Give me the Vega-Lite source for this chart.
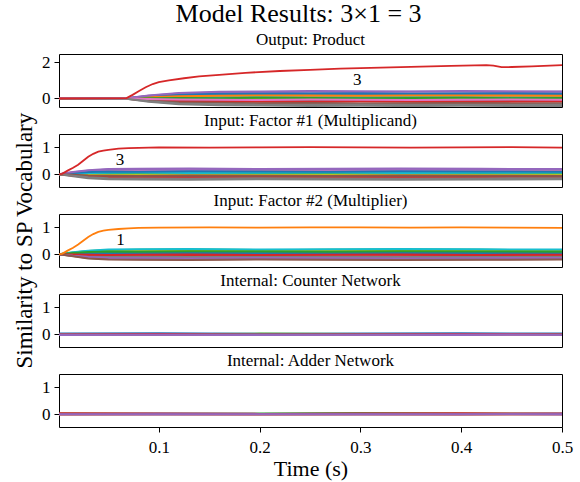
{
"$schema": "https://vega.github.io/schema/vega-lite/v6.json",
"padding": {"left": 13, "top": 0, "right": 12, "bottom": 2},
"title": {"text": "Model Results: 3×1 = 3", "fontSize": 26, "font": "Liberation Serif", "fontWeight": "normal", "color": "#000", "offset": 4, "anchor": "middle", "dx": 5},
"config": {
  "font": "Liberation Serif",
  "view": {"stroke": "#000", "strokeWidth": 1},
  "range": {"category": ["#1f77b4","#ff7f0e","#2ca02c","#d62728","#9467bd","#8c564b","#e377c2","#7f7f7f","#bcbd22","#17becf"]},
  "axis": {"domain": false, "grid": false, "labelFont": "Liberation Serif", "labelFontSize": 17, "labelColor": "#000", "tickColor": "#000", "tickSize": 5, "labelPadding": 4, "titleFont": "Liberation Serif", "titleFontSize": 22, "titleFontWeight": "normal", "titleColor": "#000"},
  "title": {"font": "Liberation Serif", "fontSize": 17, "fontWeight": "normal", "color": "#000", "offset": 4}
},
"datasets": {
"labels": [
{"p":"a","t":0.297,"y":1.04,"label":"3"},
{"p":"b","t":0.0615,"y":0.52,"label":"3"},
{"p":"c","t":0.062,"y":0.52,"label":"1"}
],
"lines": [
{"p":"a","s":"v03","t":0.001,"y":0.0},{"p":"a","s":"v03","t":0.03,"y":0.01},{"p":"a","s":"v03","t":0.068,"y":0.02},{"p":"a","s":"v03","t":0.074,"y":0.2},{"p":"a","s":"v03","t":0.08,"y":0.4},{"p":"a","s":"v03","t":0.087,"y":0.62},{"p":"a","s":"v03","t":0.094,"y":0.8},{"p":"a","s":"v03","t":0.1,"y":0.9},{"p":"a","s":"v03","t":0.11,"y":1.0},{"p":"a","s":"v03","t":0.125,"y":1.12},{"p":"a","s":"v03","t":0.14,"y":1.22},{"p":"a","s":"v03","t":0.16,"y":1.31},{"p":"a","s":"v03","t":0.186,"y":1.42},{"p":"a","s":"v03","t":0.22,"y":1.52},{"p":"a","s":"v03","t":0.25,"y":1.58},{"p":"a","s":"v03","t":0.28,"y":1.65},{"p":"a","s":"v03","t":0.33,"y":1.72},{"p":"a","s":"v03","t":0.39,"y":1.8},{"p":"a","s":"v03","t":0.425,"y":1.84},{"p":"a","s":"v03","t":0.432,"y":1.82},{"p":"a","s":"v03","t":0.44,"y":1.73},{"p":"a","s":"v03","t":0.45,"y":1.74},{"p":"a","s":"v03","t":0.47,"y":1.78},{"p":"a","s":"v03","t":0.5,"y":1.84},

{"p":"a","s":"v00","t":0.001,"y":0.01},{"p":"a","s":"v00","t":0.035,"y":-0.01},{"p":"a","s":"v00","t":0.068,"y":0.0},{"p":"a","s":"v00","t":0.09,"y":0.1},{"p":"a","s":"v00","t":0.12,"y":0.18},{"p":"a","s":"v00","t":0.16,"y":0.2},{"p":"a","s":"v00","t":0.2,"y":0.23},{"p":"a","s":"v00","t":0.25,"y":0.21},{"p":"a","s":"v00","t":0.3,"y":0.24},{"p":"a","s":"v00","t":0.35,"y":0.22},{"p":"a","s":"v00","t":0.4,"y":0.23},{"p":"a","s":"v00","t":0.45,"y":0.21},{"p":"a","s":"v00","t":0.5,"y":0.22},
{"p":"a","s":"v01","t":0.001,"y":0.0},{"p":"a","s":"v01","t":0.035,"y":0.02},{"p":"a","s":"v01","t":0.068,"y":0.01},{"p":"a","s":"v01","t":0.09,"y":0.05},{"p":"a","s":"v01","t":0.12,"y":0.08},{"p":"a","s":"v01","t":0.16,"y":0.1},{"p":"a","s":"v01","t":0.2,"y":0.09},{"p":"a","s":"v01","t":0.25,"y":0.11},{"p":"a","s":"v01","t":0.3,"y":0.1},{"p":"a","s":"v01","t":0.35,"y":0.12},{"p":"a","s":"v01","t":0.4,"y":0.1},{"p":"a","s":"v01","t":0.45,"y":0.09},{"p":"a","s":"v01","t":0.5,"y":0.11},
{"p":"a","s":"v02","t":0.001,"y":-0.01},{"p":"a","s":"v02","t":0.035,"y":0.0},{"p":"a","s":"v02","t":0.068,"y":0.01},{"p":"a","s":"v02","t":0.09,"y":-0.01},{"p":"a","s":"v02","t":0.12,"y":-0.02},{"p":"a","s":"v02","t":0.16,"y":-0.03},{"p":"a","s":"v02","t":0.2,"y":-0.01},{"p":"a","s":"v02","t":0.25,"y":-0.02},{"p":"a","s":"v02","t":0.3,"y":-0.03},{"p":"a","s":"v02","t":0.35,"y":-0.01},{"p":"a","s":"v02","t":0.4,"y":-0.02},{"p":"a","s":"v02","t":0.45,"y":-0.03},{"p":"a","s":"v02","t":0.5,"y":-0.02},
{"p":"a","s":"v04","t":0.001,"y":0.02},{"p":"a","s":"v04","t":0.035,"y":0.01},{"p":"a","s":"v04","t":0.068,"y":0.02},{"p":"a","s":"v04","t":0.09,"y":0.15},{"p":"a","s":"v04","t":0.12,"y":0.28},{"p":"a","s":"v04","t":0.16,"y":0.33},{"p":"a","s":"v04","t":0.2,"y":0.35},{"p":"a","s":"v04","t":0.25,"y":0.37},{"p":"a","s":"v04","t":0.3,"y":0.36},{"p":"a","s":"v04","t":0.35,"y":0.38},{"p":"a","s":"v04","t":0.4,"y":0.37},{"p":"a","s":"v04","t":0.45,"y":0.36},{"p":"a","s":"v04","t":0.5,"y":0.37},
{"p":"a","s":"v05","t":0.001,"y":-0.01},{"p":"a","s":"v05","t":0.035,"y":0.0},{"p":"a","s":"v05","t":0.068,"y":-0.01},{"p":"a","s":"v05","t":0.09,"y":-0.06},{"p":"a","s":"v05","t":0.12,"y":-0.1},{"p":"a","s":"v05","t":0.16,"y":-0.11},{"p":"a","s":"v05","t":0.2,"y":-0.13},{"p":"a","s":"v05","t":0.25,"y":-0.12},{"p":"a","s":"v05","t":0.3,"y":-0.11},{"p":"a","s":"v05","t":0.35,"y":-0.13},{"p":"a","s":"v05","t":0.4,"y":-0.12},{"p":"a","s":"v05","t":0.45,"y":-0.13},{"p":"a","s":"v05","t":0.5,"y":-0.12},
{"p":"a","s":"v06","t":0.001,"y":0.0},{"p":"a","s":"v06","t":0.035,"y":0.01},{"p":"a","s":"v06","t":0.068,"y":0.0},{"p":"a","s":"v06","t":0.09,"y":0.03},{"p":"a","s":"v06","t":0.12,"y":0.04},{"p":"a","s":"v06","t":0.16,"y":0.05},{"p":"a","s":"v06","t":0.2,"y":0.06},{"p":"a","s":"v06","t":0.25,"y":0.04},{"p":"a","s":"v06","t":0.3,"y":0.05},{"p":"a","s":"v06","t":0.35,"y":0.06},{"p":"a","s":"v06","t":0.4,"y":0.05},{"p":"a","s":"v06","t":0.45,"y":0.04},{"p":"a","s":"v06","t":0.5,"y":0.06},
{"p":"a","s":"v07","t":0.001,"y":-0.02},{"p":"a","s":"v07","t":0.035,"y":-0.01},{"p":"a","s":"v07","t":0.068,"y":-0.02},{"p":"a","s":"v07","t":0.09,"y":-0.18},{"p":"a","s":"v07","t":0.12,"y":-0.32},{"p":"a","s":"v07","t":0.16,"y":-0.37},{"p":"a","s":"v07","t":0.2,"y":-0.39},{"p":"a","s":"v07","t":0.25,"y":-0.41},{"p":"a","s":"v07","t":0.3,"y":-0.4},{"p":"a","s":"v07","t":0.35,"y":-0.42},{"p":"a","s":"v07","t":0.4,"y":-0.4},{"p":"a","s":"v07","t":0.45,"y":-0.41},{"p":"a","s":"v07","t":0.5,"y":-0.42},
{"p":"a","s":"v08","t":0.001,"y":0.01},{"p":"a","s":"v08","t":0.035,"y":-0.01},{"p":"a","s":"v08","t":0.068,"y":0.0},{"p":"a","s":"v08","t":0.09,"y":0.01},{"p":"a","s":"v08","t":0.12,"y":0.0},{"p":"a","s":"v08","t":0.16,"y":-0.01},{"p":"a","s":"v08","t":0.2,"y":0.01},{"p":"a","s":"v08","t":0.25,"y":0.0},{"p":"a","s":"v08","t":0.3,"y":0.01},{"p":"a","s":"v08","t":0.35,"y":-0.01},{"p":"a","s":"v08","t":0.4,"y":0.0},{"p":"a","s":"v08","t":0.45,"y":0.01},{"p":"a","s":"v08","t":0.5,"y":0.0},
{"p":"a","s":"v09","t":0.001,"y":0.0},{"p":"a","s":"v09","t":0.035,"y":0.02},{"p":"a","s":"v09","t":0.068,"y":0.01},{"p":"a","s":"v09","t":0.09,"y":0.04},{"p":"a","s":"v09","t":0.12,"y":0.06},{"p":"a","s":"v09","t":0.16,"y":0.07},{"p":"a","s":"v09","t":0.2,"y":0.08},{"p":"a","s":"v09","t":0.25,"y":0.06},{"p":"a","s":"v09","t":0.3,"y":0.07},{"p":"a","s":"v09","t":0.35,"y":0.08},{"p":"a","s":"v09","t":0.4,"y":0.07},{"p":"a","s":"v09","t":0.45,"y":0.06},{"p":"a","s":"v09","t":0.5,"y":0.07},
{"p":"a","s":"v10","t":0.001,"y":0.01},{"p":"a","s":"v10","t":0.035,"y":0.0},{"p":"a","s":"v10","t":0.068,"y":0.01},{"p":"a","s":"v10","t":0.09,"y":0.12},{"p":"a","s":"v10","t":0.12,"y":0.23},{"p":"a","s":"v10","t":0.16,"y":0.26},{"p":"a","s":"v10","t":0.2,"y":0.28},{"p":"a","s":"v10","t":0.25,"y":0.27},{"p":"a","s":"v10","t":0.3,"y":0.29},{"p":"a","s":"v10","t":0.35,"y":0.28},{"p":"a","s":"v10","t":0.4,"y":0.27},{"p":"a","s":"v10","t":0.45,"y":0.29},{"p":"a","s":"v10","t":0.5,"y":0.28},
{"p":"a","s":"v11","t":0.001,"y":0.0},{"p":"a","s":"v11","t":0.035,"y":0.01},{"p":"a","s":"v11","t":0.068,"y":0.0},{"p":"a","s":"v11","t":0.09,"y":0.07},{"p":"a","s":"v11","t":0.12,"y":0.13},{"p":"a","s":"v11","t":0.16,"y":0.15},{"p":"a","s":"v11","t":0.2,"y":0.17},{"p":"a","s":"v11","t":0.25,"y":0.16},{"p":"a","s":"v11","t":0.3,"y":0.15},{"p":"a","s":"v11","t":0.35,"y":0.17},{"p":"a","s":"v11","t":0.4,"y":0.16},{"p":"a","s":"v11","t":0.45,"y":0.17},{"p":"a","s":"v11","t":0.5,"y":0.15},
{"p":"a","s":"v12","t":0.001,"y":0.01},{"p":"a","s":"v12","t":0.035,"y":0.0},{"p":"a","s":"v12","t":0.068,"y":0.01},{"p":"a","s":"v12","t":0.09,"y":0.02},{"p":"a","s":"v12","t":0.12,"y":0.03},{"p":"a","s":"v12","t":0.16,"y":0.02},{"p":"a","s":"v12","t":0.2,"y":0.04},{"p":"a","s":"v12","t":0.25,"y":0.03},{"p":"a","s":"v12","t":0.3,"y":0.02},{"p":"a","s":"v12","t":0.35,"y":0.03},{"p":"a","s":"v12","t":0.4,"y":0.04},{"p":"a","s":"v12","t":0.45,"y":0.02},{"p":"a","s":"v12","t":0.5,"y":0.03},
{"p":"a","s":"v13","t":0.001,"y":-0.01},{"p":"a","s":"v13","t":0.035,"y":0.0},{"p":"a","s":"v13","t":0.068,"y":-0.01},{"p":"a","s":"v13","t":0.09,"y":-0.08},{"p":"a","s":"v13","t":0.12,"y":-0.15},{"p":"a","s":"v13","t":0.16,"y":-0.17},{"p":"a","s":"v13","t":0.2,"y":-0.18},{"p":"a","s":"v13","t":0.25,"y":-0.19},{"p":"a","s":"v13","t":0.3,"y":-0.17},{"p":"a","s":"v13","t":0.35,"y":-0.18},{"p":"a","s":"v13","t":0.4,"y":-0.19},{"p":"a","s":"v13","t":0.45,"y":-0.18},{"p":"a","s":"v13","t":0.5,"y":-0.17},
{"p":"a","s":"v14","t":0.001,"y":0.02},{"p":"a","s":"v14","t":0.035,"y":0.03},{"p":"a","s":"v14","t":0.068,"y":0.02},{"p":"a","s":"v14","t":0.09,"y":0.16},{"p":"a","s":"v14","t":0.12,"y":0.31},{"p":"a","s":"v14","t":0.16,"y":0.37},{"p":"a","s":"v14","t":0.2,"y":0.39},{"p":"a","s":"v14","t":0.25,"y":0.41},{"p":"a","s":"v14","t":0.3,"y":0.4},{"p":"a","s":"v14","t":0.35,"y":0.39},{"p":"a","s":"v14","t":0.4,"y":0.41},{"p":"a","s":"v14","t":0.45,"y":0.4},{"p":"a","s":"v14","t":0.5,"y":0.39},
{"p":"a","s":"v15","t":0.001,"y":-0.01},{"p":"a","s":"v15","t":0.035,"y":-0.02},{"p":"a","s":"v15","t":0.068,"y":-0.01},{"p":"a","s":"v15","t":0.09,"y":-0.11},{"p":"a","s":"v15","t":0.12,"y":-0.21},{"p":"a","s":"v15","t":0.16,"y":-0.24},{"p":"a","s":"v15","t":0.2,"y":-0.26},{"p":"a","s":"v15","t":0.25,"y":-0.25},{"p":"a","s":"v15","t":0.3,"y":-0.27},{"p":"a","s":"v15","t":0.35,"y":-0.26},{"p":"a","s":"v15","t":0.4,"y":-0.25},{"p":"a","s":"v15","t":0.45,"y":-0.27},{"p":"a","s":"v15","t":0.5,"y":-0.26},
{"p":"a","s":"v16","t":0.001,"y":0.0},{"p":"a","s":"v16","t":0.035,"y":-0.01},{"p":"a","s":"v16","t":0.068,"y":0.0},{"p":"a","s":"v16","t":0.09,"y":-0.03},{"p":"a","s":"v16","t":0.12,"y":-0.06},{"p":"a","s":"v16","t":0.16,"y":-0.07},{"p":"a","s":"v16","t":0.2,"y":-0.08},{"p":"a","s":"v16","t":0.25,"y":-0.06},{"p":"a","s":"v16","t":0.3,"y":-0.07},{"p":"a","s":"v16","t":0.35,"y":-0.08},{"p":"a","s":"v16","t":0.4,"y":-0.07},{"p":"a","s":"v16","t":0.45,"y":-0.06},{"p":"a","s":"v16","t":0.5,"y":-0.07},
{"p":"a","s":"v17","t":0.001,"y":-0.02},{"p":"a","s":"v17","t":0.035,"y":-0.01},{"p":"a","s":"v17","t":0.068,"y":-0.02},{"p":"a","s":"v17","t":0.09,"y":-0.15},{"p":"a","s":"v17","t":0.12,"y":-0.28},{"p":"a","s":"v17","t":0.16,"y":-0.32},{"p":"a","s":"v17","t":0.2,"y":-0.34},{"p":"a","s":"v17","t":0.25,"y":-0.35},{"p":"a","s":"v17","t":0.3,"y":-0.33},{"p":"a","s":"v17","t":0.35,"y":-0.34},{"p":"a","s":"v17","t":0.4,"y":-0.35},{"p":"a","s":"v17","t":0.45,"y":-0.34},{"p":"a","s":"v17","t":0.5,"y":-0.33},

{"p":"b","s":"v03","t":0.001,"y":0.0},{"p":"b","s":"v03","t":0.004,"y":0.01},{"p":"b","s":"v03","t":0.01,"y":0.14},{"p":"b","s":"v03","t":0.015,"y":0.24},{"p":"b","s":"v03","t":0.02,"y":0.35},{"p":"b","s":"v03","t":0.025,"y":0.5},{"p":"b","s":"v03","t":0.03,"y":0.65},{"p":"b","s":"v03","t":0.035,"y":0.76},{"p":"b","s":"v03","t":0.04,"y":0.84},{"p":"b","s":"v03","t":0.045,"y":0.88},{"p":"b","s":"v03","t":0.05,"y":0.91},{"p":"b","s":"v03","t":0.06,"y":0.95},{"p":"b","s":"v03","t":0.07,"y":0.97},{"p":"b","s":"v03","t":0.08,"y":0.98},{"p":"b","s":"v03","t":0.1,"y":1.0},{"p":"b","s":"v03","t":0.15,"y":0.99},{"p":"b","s":"v03","t":0.2,"y":1.0},{"p":"b","s":"v03","t":0.25,"y":1.01},{"p":"b","s":"v03","t":0.3,"y":1.0},{"p":"b","s":"v03","t":0.35,"y":0.99},{"p":"b","s":"v03","t":0.4,"y":1.0},{"p":"b","s":"v03","t":0.45,"y":1.01},{"p":"b","s":"v03","t":0.5,"y":0.99},

{"p":"b","s":"v00","t":0.001,"y":0.0},{"p":"b","s":"v00","t":0.015,"y":0.03},{"p":"b","s":"v00","t":0.03,"y":0.06},{"p":"b","s":"v00","t":0.05,"y":0.08},{"p":"b","s":"v00","t":0.08,"y":0.07},{"p":"b","s":"v00","t":0.13,"y":0.09},{"p":"b","s":"v00","t":0.2,"y":0.08},{"p":"b","s":"v00","t":0.27,"y":0.07},{"p":"b","s":"v00","t":0.34,"y":0.09},{"p":"b","s":"v00","t":0.42,"y":0.08},{"p":"b","s":"v00","t":0.5,"y":0.07},
{"p":"b","s":"v01","t":0.001,"y":0.0},{"p":"b","s":"v01","t":0.015,"y":0.06},{"p":"b","s":"v01","t":0.03,"y":0.11},{"p":"b","s":"v01","t":0.05,"y":0.14},{"p":"b","s":"v01","t":0.08,"y":0.15},{"p":"b","s":"v01","t":0.13,"y":0.16},{"p":"b","s":"v01","t":0.2,"y":0.14},{"p":"b","s":"v01","t":0.27,"y":0.15},{"p":"b","s":"v01","t":0.34,"y":0.16},{"p":"b","s":"v01","t":0.42,"y":0.15},{"p":"b","s":"v01","t":0.5,"y":0.14},
{"p":"b","s":"v02","t":0.001,"y":0.0},{"p":"b","s":"v02","t":0.015,"y":0.01},{"p":"b","s":"v02","t":0.03,"y":0.02},{"p":"b","s":"v02","t":0.05,"y":0.03},{"p":"b","s":"v02","t":0.08,"y":0.01},{"p":"b","s":"v02","t":0.13,"y":0.02},{"p":"b","s":"v02","t":0.2,"y":0.03},{"p":"b","s":"v02","t":0.27,"y":0.02},{"p":"b","s":"v02","t":0.34,"y":0.01},{"p":"b","s":"v02","t":0.42,"y":0.03},{"p":"b","s":"v02","t":0.5,"y":0.02},
{"p":"b","s":"v04","t":0.001,"y":0.0},{"p":"b","s":"v04","t":0.015,"y":0.07},{"p":"b","s":"v04","t":0.03,"y":0.13},{"p":"b","s":"v04","t":0.05,"y":0.17},{"p":"b","s":"v04","t":0.08,"y":0.18},{"p":"b","s":"v04","t":0.13,"y":0.19},{"p":"b","s":"v04","t":0.2,"y":0.17},{"p":"b","s":"v04","t":0.27,"y":0.18},{"p":"b","s":"v04","t":0.34,"y":0.19},{"p":"b","s":"v04","t":0.42,"y":0.18},{"p":"b","s":"v04","t":0.5,"y":0.17},
{"p":"b","s":"v05","t":0.001,"y":0.0},{"p":"b","s":"v05","t":0.015,"y":-0.04},{"p":"b","s":"v05","t":0.03,"y":-0.08},{"p":"b","s":"v05","t":0.05,"y":-0.1},{"p":"b","s":"v05","t":0.08,"y":-0.09},{"p":"b","s":"v05","t":0.13,"y":-0.11},{"p":"b","s":"v05","t":0.2,"y":-0.1},{"p":"b","s":"v05","t":0.27,"y":-0.09},{"p":"b","s":"v05","t":0.34,"y":-0.11},{"p":"b","s":"v05","t":0.42,"y":-0.1},{"p":"b","s":"v05","t":0.5,"y":-0.09},
{"p":"b","s":"v06","t":0.001,"y":0.0},{"p":"b","s":"v06","t":0.015,"y":0.05},{"p":"b","s":"v06","t":0.03,"y":0.09},{"p":"b","s":"v06","t":0.05,"y":0.11},{"p":"b","s":"v06","t":0.08,"y":0.12},{"p":"b","s":"v06","t":0.13,"y":0.13},{"p":"b","s":"v06","t":0.2,"y":0.11},{"p":"b","s":"v06","t":0.27,"y":0.12},{"p":"b","s":"v06","t":0.34,"y":0.13},{"p":"b","s":"v06","t":0.42,"y":0.12},{"p":"b","s":"v06","t":0.5,"y":0.11},
{"p":"b","s":"v07","t":0.001,"y":0.0},{"p":"b","s":"v07","t":0.015,"y":-0.08},{"p":"b","s":"v07","t":0.03,"y":-0.15},{"p":"b","s":"v07","t":0.05,"y":-0.19},{"p":"b","s":"v07","t":0.08,"y":-0.2},{"p":"b","s":"v07","t":0.13,"y":-0.21},{"p":"b","s":"v07","t":0.2,"y":-0.19},{"p":"b","s":"v07","t":0.27,"y":-0.2},{"p":"b","s":"v07","t":0.34,"y":-0.21},{"p":"b","s":"v07","t":0.42,"y":-0.2},{"p":"b","s":"v07","t":0.5,"y":-0.19},
{"p":"b","s":"v08","t":0.001,"y":0.0},{"p":"b","s":"v08","t":0.015,"y":-0.01},{"p":"b","s":"v08","t":0.03,"y":-0.02},{"p":"b","s":"v08","t":0.05,"y":-0.03},{"p":"b","s":"v08","t":0.08,"y":-0.02},{"p":"b","s":"v08","t":0.13,"y":-0.01},{"p":"b","s":"v08","t":0.2,"y":-0.03},{"p":"b","s":"v08","t":0.27,"y":-0.02},{"p":"b","s":"v08","t":0.34,"y":-0.01},{"p":"b","s":"v08","t":0.42,"y":-0.03},{"p":"b","s":"v08","t":0.5,"y":-0.02},
{"p":"b","s":"v09","t":0.001,"y":0.0},{"p":"b","s":"v09","t":0.015,"y":0.02},{"p":"b","s":"v09","t":0.03,"y":0.04},{"p":"b","s":"v09","t":0.05,"y":0.05},{"p":"b","s":"v09","t":0.08,"y":0.06},{"p":"b","s":"v09","t":0.13,"y":0.04},{"p":"b","s":"v09","t":0.2,"y":0.05},{"p":"b","s":"v09","t":0.27,"y":0.06},{"p":"b","s":"v09","t":0.34,"y":0.04},{"p":"b","s":"v09","t":0.42,"y":0.05},{"p":"b","s":"v09","t":0.5,"y":0.06},
{"p":"b","s":"v10","t":0.001,"y":0.0},{"p":"b","s":"v10","t":0.015,"y":0.04},{"p":"b","s":"v10","t":0.03,"y":0.08},{"p":"b","s":"v10","t":0.05,"y":0.1},{"p":"b","s":"v10","t":0.08,"y":0.09},{"p":"b","s":"v10","t":0.13,"y":0.11},{"p":"b","s":"v10","t":0.2,"y":0.1},{"p":"b","s":"v10","t":0.27,"y":0.09},{"p":"b","s":"v10","t":0.34,"y":0.11},{"p":"b","s":"v10","t":0.42,"y":0.1},{"p":"b","s":"v10","t":0.5,"y":0.09},
{"p":"b","s":"v13","t":0.001,"y":0.0},{"p":"b","s":"v13","t":0.015,"y":-0.05},{"p":"b","s":"v13","t":0.03,"y":-0.09},{"p":"b","s":"v13","t":0.05,"y":-0.12},{"p":"b","s":"v13","t":0.08,"y":-0.11},{"p":"b","s":"v13","t":0.13,"y":-0.13},{"p":"b","s":"v13","t":0.2,"y":-0.12},{"p":"b","s":"v13","t":0.27,"y":-0.11},{"p":"b","s":"v13","t":0.34,"y":-0.13},{"p":"b","s":"v13","t":0.42,"y":-0.12},{"p":"b","s":"v13","t":0.5,"y":-0.11},
{"p":"b","s":"v14","t":0.001,"y":0.0},{"p":"b","s":"v14","t":0.015,"y":0.08},{"p":"b","s":"v14","t":0.03,"y":0.15},{"p":"b","s":"v14","t":0.05,"y":0.19},{"p":"b","s":"v14","t":0.08,"y":0.2},{"p":"b","s":"v14","t":0.13,"y":0.21},{"p":"b","s":"v14","t":0.2,"y":0.19},{"p":"b","s":"v14","t":0.27,"y":0.2},{"p":"b","s":"v14","t":0.34,"y":0.21},{"p":"b","s":"v14","t":0.42,"y":0.2},{"p":"b","s":"v14","t":0.5,"y":0.19},
{"p":"b","s":"v15","t":0.001,"y":0.0},{"p":"b","s":"v15","t":0.015,"y":-0.02},{"p":"b","s":"v15","t":0.03,"y":-0.05},{"p":"b","s":"v15","t":0.05,"y":-0.06},{"p":"b","s":"v15","t":0.08,"y":-0.07},{"p":"b","s":"v15","t":0.13,"y":-0.05},{"p":"b","s":"v15","t":0.2,"y":-0.06},{"p":"b","s":"v15","t":0.27,"y":-0.07},{"p":"b","s":"v15","t":0.34,"y":-0.05},{"p":"b","s":"v15","t":0.42,"y":-0.06},{"p":"b","s":"v15","t":0.5,"y":-0.07},
{"p":"b","s":"v17","t":0.001,"y":0.0},{"p":"b","s":"v17","t":0.015,"y":-0.06},{"p":"b","s":"v17","t":0.03,"y":-0.12},{"p":"b","s":"v17","t":0.05,"y":-0.15},{"p":"b","s":"v17","t":0.08,"y":-0.16},{"p":"b","s":"v17","t":0.13,"y":-0.17},{"p":"b","s":"v17","t":0.2,"y":-0.15},{"p":"b","s":"v17","t":0.27,"y":-0.16},{"p":"b","s":"v17","t":0.34,"y":-0.17},{"p":"b","s":"v17","t":0.42,"y":-0.16},{"p":"b","s":"v17","t":0.5,"y":-0.15},

{"p":"c","s":"v01","t":0.001,"y":0.0},{"p":"c","s":"v01","t":0.004,"y":0.01},{"p":"c","s":"v01","t":0.01,"y":0.14},{"p":"c","s":"v01","t":0.015,"y":0.24},{"p":"c","s":"v01","t":0.02,"y":0.36},{"p":"c","s":"v01","t":0.025,"y":0.5},{"p":"c","s":"v01","t":0.03,"y":0.64},{"p":"c","s":"v01","t":0.035,"y":0.75},{"p":"c","s":"v01","t":0.04,"y":0.83},{"p":"c","s":"v01","t":0.045,"y":0.88},{"p":"c","s":"v01","t":0.05,"y":0.91},{"p":"c","s":"v01","t":0.06,"y":0.94},{"p":"c","s":"v01","t":0.07,"y":0.96},{"p":"c","s":"v01","t":0.08,"y":0.98},{"p":"c","s":"v01","t":0.1,"y":0.99},{"p":"c","s":"v01","t":0.15,"y":1.0},{"p":"c","s":"v01","t":0.2,"y":0.99},{"p":"c","s":"v01","t":0.25,"y":1.0},{"p":"c","s":"v01","t":0.3,"y":1.0},{"p":"c","s":"v01","t":0.35,"y":0.99},{"p":"c","s":"v01","t":0.4,"y":1.0},{"p":"c","s":"v01","t":0.45,"y":0.99},{"p":"c","s":"v01","t":0.5,"y":0.98},

{"p":"c","s":"v00","t":0.001,"y":0.0},{"p":"c","s":"v00","t":0.015,"y":0.02},{"p":"c","s":"v00","t":0.03,"y":0.05},{"p":"c","s":"v00","t":0.05,"y":0.06},{"p":"c","s":"v00","t":0.08,"y":0.07},{"p":"c","s":"v00","t":0.13,"y":0.05},{"p":"c","s":"v00","t":0.2,"y":0.06},{"p":"c","s":"v00","t":0.27,"y":0.07},{"p":"c","s":"v00","t":0.34,"y":0.05},{"p":"c","s":"v00","t":0.42,"y":0.06},{"p":"c","s":"v00","t":0.5,"y":0.07},
{"p":"c","s":"v02","t":0.001,"y":0.0},{"p":"c","s":"v02","t":0.015,"y":0.06},{"p":"c","s":"v02","t":0.03,"y":0.12},{"p":"c","s":"v02","t":0.05,"y":0.15},{"p":"c","s":"v02","t":0.08,"y":0.16},{"p":"c","s":"v02","t":0.13,"y":0.17},{"p":"c","s":"v02","t":0.2,"y":0.15},{"p":"c","s":"v02","t":0.27,"y":0.16},{"p":"c","s":"v02","t":0.34,"y":0.17},{"p":"c","s":"v02","t":0.42,"y":0.16},{"p":"c","s":"v02","t":0.5,"y":0.15},
{"p":"c","s":"v03","t":0.001,"y":0.0},{"p":"c","s":"v03","t":0.015,"y":-0.02},{"p":"c","s":"v03","t":0.03,"y":-0.04},{"p":"c","s":"v03","t":0.05,"y":-0.05},{"p":"c","s":"v03","t":0.08,"y":-0.06},{"p":"c","s":"v03","t":0.13,"y":-0.04},{"p":"c","s":"v03","t":0.2,"y":-0.05},{"p":"c","s":"v03","t":0.27,"y":-0.06},{"p":"c","s":"v03","t":0.34,"y":-0.04},{"p":"c","s":"v03","t":0.42,"y":-0.05},{"p":"c","s":"v03","t":0.5,"y":-0.06},
{"p":"c","s":"v04","t":0.001,"y":0.0},{"p":"c","s":"v04","t":0.015,"y":-0.05},{"p":"c","s":"v04","t":0.03,"y":-0.1},{"p":"c","s":"v04","t":0.05,"y":-0.12},{"p":"c","s":"v04","t":0.08,"y":-0.13},{"p":"c","s":"v04","t":0.13,"y":-0.14},{"p":"c","s":"v04","t":0.2,"y":-0.12},{"p":"c","s":"v04","t":0.27,"y":-0.13},{"p":"c","s":"v04","t":0.34,"y":-0.14},{"p":"c","s":"v04","t":0.42,"y":-0.13},{"p":"c","s":"v04","t":0.5,"y":-0.12},
{"p":"c","s":"v05","t":0.001,"y":0.0},{"p":"c","s":"v05","t":0.015,"y":-0.07},{"p":"c","s":"v05","t":0.03,"y":-0.14},{"p":"c","s":"v05","t":0.05,"y":-0.18},{"p":"c","s":"v05","t":0.08,"y":-0.19},{"p":"c","s":"v05","t":0.13,"y":-0.2},{"p":"c","s":"v05","t":0.2,"y":-0.18},{"p":"c","s":"v05","t":0.27,"y":-0.19},{"p":"c","s":"v05","t":0.34,"y":-0.2},{"p":"c","s":"v05","t":0.42,"y":-0.19},{"p":"c","s":"v05","t":0.5,"y":-0.18},
{"p":"c","s":"v06","t":0.001,"y":0.0},{"p":"c","s":"v06","t":0.015,"y":0.01},{"p":"c","s":"v06","t":0.03,"y":0.0},{"p":"c","s":"v06","t":0.05,"y":-0.01},{"p":"c","s":"v06","t":0.08,"y":0.0},{"p":"c","s":"v06","t":0.13,"y":0.01},{"p":"c","s":"v06","t":0.2,"y":0.0},{"p":"c","s":"v06","t":0.27,"y":-0.01},{"p":"c","s":"v06","t":0.34,"y":0.0},{"p":"c","s":"v06","t":0.42,"y":0.01},{"p":"c","s":"v06","t":0.5,"y":0.0},
{"p":"c","s":"v07","t":0.001,"y":0.0},{"p":"c","s":"v07","t":0.015,"y":-0.04},{"p":"c","s":"v07","t":0.03,"y":-0.08},{"p":"c","s":"v07","t":0.05,"y":-0.1},{"p":"c","s":"v07","t":0.08,"y":-0.09},{"p":"c","s":"v07","t":0.13,"y":-0.11},{"p":"c","s":"v07","t":0.2,"y":-0.1},{"p":"c","s":"v07","t":0.27,"y":-0.09},{"p":"c","s":"v07","t":0.34,"y":-0.11},{"p":"c","s":"v07","t":0.42,"y":-0.1},{"p":"c","s":"v07","t":0.5,"y":-0.09},
{"p":"c","s":"v08","t":0.001,"y":0.0},{"p":"c","s":"v08","t":0.015,"y":0.05},{"p":"c","s":"v08","t":0.03,"y":0.09},{"p":"c","s":"v08","t":0.05,"y":0.11},{"p":"c","s":"v08","t":0.08,"y":0.12},{"p":"c","s":"v08","t":0.13,"y":0.13},{"p":"c","s":"v08","t":0.2,"y":0.11},{"p":"c","s":"v08","t":0.27,"y":0.12},{"p":"c","s":"v08","t":0.34,"y":0.13},{"p":"c","s":"v08","t":0.42,"y":0.12},{"p":"c","s":"v08","t":0.5,"y":0.11},
{"p":"c","s":"v09","t":0.001,"y":0.0},{"p":"c","s":"v09","t":0.015,"y":0.07},{"p":"c","s":"v09","t":0.03,"y":0.13},{"p":"c","s":"v09","t":0.05,"y":0.17},{"p":"c","s":"v09","t":0.08,"y":0.18},{"p":"c","s":"v09","t":0.13,"y":0.19},{"p":"c","s":"v09","t":0.2,"y":0.17},{"p":"c","s":"v09","t":0.27,"y":0.18},{"p":"c","s":"v09","t":0.34,"y":0.19},{"p":"c","s":"v09","t":0.42,"y":0.18},{"p":"c","s":"v09","t":0.5,"y":0.17},
{"p":"c","s":"v10","t":0.001,"y":0.0},{"p":"c","s":"v10","t":0.015,"y":0.01},{"p":"c","s":"v10","t":0.03,"y":0.02},{"p":"c","s":"v10","t":0.05,"y":0.03},{"p":"c","s":"v10","t":0.08,"y":0.04},{"p":"c","s":"v10","t":0.13,"y":0.02},{"p":"c","s":"v10","t":0.2,"y":0.03},{"p":"c","s":"v10","t":0.27,"y":0.04},{"p":"c","s":"v10","t":0.34,"y":0.02},{"p":"c","s":"v10","t":0.42,"y":0.03},{"p":"c","s":"v10","t":0.5,"y":0.04},
{"p":"c","s":"v12","t":0.001,"y":0.0},{"p":"c","s":"v12","t":0.015,"y":0.04},{"p":"c","s":"v12","t":0.03,"y":0.08},{"p":"c","s":"v12","t":0.05,"y":0.1},{"p":"c","s":"v12","t":0.08,"y":0.09},{"p":"c","s":"v12","t":0.13,"y":0.11},{"p":"c","s":"v12","t":0.2,"y":0.1},{"p":"c","s":"v12","t":0.27,"y":0.09},{"p":"c","s":"v12","t":0.34,"y":0.11},{"p":"c","s":"v12","t":0.42,"y":0.1},{"p":"c","s":"v12","t":0.5,"y":0.09},
{"p":"c","s":"v13","t":0.001,"y":0.0},{"p":"c","s":"v13","t":0.015,"y":-0.01},{"p":"c","s":"v13","t":0.03,"y":-0.02},{"p":"c","s":"v13","t":0.05,"y":-0.03},{"p":"c","s":"v13","t":0.08,"y":-0.02},{"p":"c","s":"v13","t":0.13,"y":-0.01},{"p":"c","s":"v13","t":0.2,"y":-0.03},{"p":"c","s":"v13","t":0.27,"y":-0.02},{"p":"c","s":"v13","t":0.34,"y":-0.01},{"p":"c","s":"v13","t":0.42,"y":-0.03},{"p":"c","s":"v13","t":0.5,"y":-0.02},
{"p":"c","s":"v14","t":0.001,"y":0.0},{"p":"c","s":"v14","t":0.015,"y":-0.06},{"p":"c","s":"v14","t":0.03,"y":-0.11},{"p":"c","s":"v14","t":0.05,"y":-0.14},{"p":"c","s":"v14","t":0.08,"y":-0.15},{"p":"c","s":"v14","t":0.13,"y":-0.16},{"p":"c","s":"v14","t":0.2,"y":-0.14},{"p":"c","s":"v14","t":0.27,"y":-0.15},{"p":"c","s":"v14","t":0.34,"y":-0.16},{"p":"c","s":"v14","t":0.42,"y":-0.15},{"p":"c","s":"v14","t":0.5,"y":-0.14},
{"p":"c","s":"v15","t":0.001,"y":0.0},{"p":"c","s":"v15","t":0.015,"y":-0.08},{"p":"c","s":"v15","t":0.03,"y":-0.16},{"p":"c","s":"v15","t":0.05,"y":-0.2},{"p":"c","s":"v15","t":0.08,"y":-0.21},{"p":"c","s":"v15","t":0.13,"y":-0.22},{"p":"c","s":"v15","t":0.2,"y":-0.2},{"p":"c","s":"v15","t":0.27,"y":-0.21},{"p":"c","s":"v15","t":0.34,"y":-0.22},{"p":"c","s":"v15","t":0.42,"y":-0.21},{"p":"c","s":"v15","t":0.5,"y":-0.2},

{"p":"d","s":"v00","t":0.001,"y":0.02},{"p":"d","s":"v00","t":0.1,"y":0.03},{"p":"d","s":"v00","t":0.2,"y":0.01},{"p":"d","s":"v00","t":0.3,"y":0.02},{"p":"d","s":"v00","t":0.4,"y":0.03},{"p":"d","s":"v00","t":0.5,"y":0.02},
{"p":"d","s":"v01","t":0.001,"y":-0.02},{"p":"d","s":"v01","t":0.1,"y":-0.03},{"p":"d","s":"v01","t":0.2,"y":-0.01},{"p":"d","s":"v01","t":0.3,"y":-0.02},{"p":"d","s":"v01","t":0.4,"y":-0.03},{"p":"d","s":"v01","t":0.5,"y":-0.02},
{"p":"d","s":"v02","t":0.001,"y":0.01},{"p":"d","s":"v02","t":0.1,"y":0.0},{"p":"d","s":"v02","t":0.2,"y":0.02},{"p":"d","s":"v02","t":0.3,"y":0.01},{"p":"d","s":"v02","t":0.4,"y":0.0},{"p":"d","s":"v02","t":0.5,"y":0.01},
{"p":"d","s":"v03","t":0.001,"y":0.0},{"p":"d","s":"v03","t":0.1,"y":0.01},{"p":"d","s":"v03","t":0.2,"y":-0.01},{"p":"d","s":"v03","t":0.3,"y":0.0},{"p":"d","s":"v03","t":0.4,"y":0.01},{"p":"d","s":"v03","t":0.5,"y":0.0},
{"p":"d","s":"v04","t":0.001,"y":-0.01},{"p":"d","s":"v04","t":0.1,"y":-0.02},{"p":"d","s":"v04","t":0.2,"y":-0.01},{"p":"d","s":"v04","t":0.3,"y":-0.02},{"p":"d","s":"v04","t":0.4,"y":-0.01},{"p":"d","s":"v04","t":0.5,"y":-0.02},
{"p":"d","s":"v14","t":0.001,"y":-0.03},{"p":"d","s":"v14","t":0.1,"y":-0.02},{"p":"d","s":"v14","t":0.2,"y":-0.03},{"p":"d","s":"v14","t":0.3,"y":-0.02},{"p":"d","s":"v14","t":0.4,"y":-0.03},{"p":"d","s":"v14","t":0.5,"y":-0.02},

{"p":"e","s":"v00","t":0.001,"y":0.01},{"p":"e","s":"v00","t":0.1,"y":0.02},{"p":"e","s":"v00","t":0.2,"y":0.01},{"p":"e","s":"v00","t":0.3,"y":0.02},{"p":"e","s":"v00","t":0.4,"y":0.01},{"p":"e","s":"v00","t":0.5,"y":0.02},
{"p":"e","s":"v01","t":0.001,"y":-0.02},{"p":"e","s":"v01","t":0.1,"y":-0.01},{"p":"e","s":"v01","t":0.2,"y":-0.02},{"p":"e","s":"v01","t":0.3,"y":-0.01},{"p":"e","s":"v01","t":0.4,"y":-0.02},{"p":"e","s":"v01","t":0.5,"y":-0.01},
{"p":"e","s":"v02","t":0.001,"y":0.02},{"p":"e","s":"v02","t":0.1,"y":0.01},{"p":"e","s":"v02","t":0.2,"y":0.02},{"p":"e","s":"v02","t":0.3,"y":0.03},{"p":"e","s":"v02","t":0.4,"y":0.02},{"p":"e","s":"v02","t":0.5,"y":0.01},
{"p":"e","s":"v03","t":0.001,"y":0.03},{"p":"e","s":"v03","t":0.1,"y":0.02},{"p":"e","s":"v03","t":0.2,"y":0.01},{"p":"e","s":"v03","t":0.3,"y":0.02},{"p":"e","s":"v03","t":0.4,"y":0.03},{"p":"e","s":"v03","t":0.5,"y":0.02},
{"p":"e","s":"v04","t":0.001,"y":-0.01},{"p":"e","s":"v04","t":0.1,"y":0.0},{"p":"e","s":"v04","t":0.2,"y":-0.01},{"p":"e","s":"v04","t":0.3,"y":0.0},{"p":"e","s":"v04","t":0.4,"y":-0.01},{"p":"e","s":"v04","t":0.5,"y":0.0},
{"p":"e","s":"v14","t":0.001,"y":0.0},{"p":"e","s":"v14","t":0.1,"y":-0.01},{"p":"e","s":"v14","t":0.2,"y":0.0},{"p":"e","s":"v14","t":0.3,"y":-0.01},{"p":"e","s":"v14","t":0.4,"y":0.0},{"p":"e","s":"v14","t":0.5,"y":-0.01}
]
},
"vconcat": [
{
"title": {"text": "Similarity to SP Vocabulary", "orient": "left", "fontSize": 23, "offset": 4, "dx": 111},
"bounds": "flush",
"spacing": 27,
"vconcat": [
{
 "width": 503, "height": 53,
 "title": "Output: Product",
 "layer": [
  {"data": {"name": "lines"}, "transform": [{"filter": "datum.p === 'a' && datum.s !== 'v03'"}],
   "mark": {"type": "line", "strokeWidth": 2, "clip": true},
   "encoding": {
    "x": {"field": "t", "type": "quantitative", "scale": {"domain": [0.001, 0.5], "nice": false, "zero": false}, "axis": null},
    "y": {"field": "y", "type": "quantitative", "scale": {"domain": [-0.47, 2.46], "nice": false, "zero": false}, "axis": {"values": [0, 2], "title": null}},
    "color": {"field": "s", "type": "nominal", "legend": null, "scale": {"domain": ["v00","v01","v02","v03","v04","v05","v06","v07","v08","v09","v10","v11","v12","v13","v14","v15","v16","v17","v18","v19"]}}
   }},
  {"data": {"name": "lines"}, "transform": [{"filter": "datum.p === 'a' && datum.s === 'v03'"}],
   "mark": {"type": "line", "strokeWidth": 1.8, "clip": true},
   "encoding": {
    "x": {"field": "t", "type": "quantitative"},
    "y": {"field": "y", "type": "quantitative"},
    "color": {"field": "s", "type": "nominal"}
   }},
  {"data": {"name": "labels"}, "transform": [{"filter": "datum.p === 'a'"}],
   "mark": {"type": "text", "fontSize": 17, "font": "Liberation Serif", "color": "#000"},
   "encoding": {
    "x": {"field": "t", "type": "quantitative"},
    "y": {"field": "y", "type": "quantitative"},
    "text": {"field": "label"}
   }}
 ]
},
{
 "width": 503, "height": 53,
 "title": "Input: Factor #1 (Multiplicand)",
 "layer": [
  {"data": {"name": "lines"}, "transform": [{"filter": "datum.p === 'b' && datum.s !== 'v03'"}],
   "mark": {"type": "line", "strokeWidth": 2, "clip": true},
   "encoding": {
    "x": {"field": "t", "type": "quantitative", "scale": {"domain": [0.001, 0.5], "nice": false, "zero": false}, "axis": null},
    "y": {"field": "y", "type": "quantitative", "scale": {"domain": [-0.48, 1.5], "nice": false, "zero": false}, "axis": {"values": [0, 1], "title": null}},
    "color": {"field": "s", "type": "nominal", "legend": null, "scale": {"domain": ["v00","v01","v02","v03","v04","v05","v06","v07","v08","v09","v10","v11","v12","v13","v14","v15","v16","v17","v18","v19"]}}
   }},
  {"data": {"name": "lines"}, "transform": [{"filter": "datum.p === 'b' && datum.s === 'v03'"}],
   "mark": {"type": "line", "strokeWidth": 1.8, "clip": true},
   "encoding": {
    "x": {"field": "t", "type": "quantitative"},
    "y": {"field": "y", "type": "quantitative"},
    "color": {"field": "s", "type": "nominal"}
   }},
  {"data": {"name": "labels"}, "transform": [{"filter": "datum.p === 'b'"}],
   "mark": {"type": "text", "fontSize": 17, "font": "Liberation Serif", "color": "#000"},
   "encoding": {
    "x": {"field": "t", "type": "quantitative"},
    "y": {"field": "y", "type": "quantitative"},
    "text": {"field": "label"}
   }}
 ]
},
{
 "width": 503, "height": 53,
 "title": "Input: Factor #2 (Multiplier)",
 "layer": [
  {"data": {"name": "lines"}, "transform": [{"filter": "datum.p === 'c' && datum.s !== 'v01'"}],
   "mark": {"type": "line", "strokeWidth": 2, "clip": true},
   "encoding": {
    "x": {"field": "t", "type": "quantitative", "scale": {"domain": [0.001, 0.5], "nice": false, "zero": false}, "axis": null},
    "y": {"field": "y", "type": "quantitative", "scale": {"domain": [-0.48, 1.5], "nice": false, "zero": false}, "axis": {"values": [0, 1], "title": null}},
    "color": {"field": "s", "type": "nominal", "legend": null, "scale": {"domain": ["v00","v01","v02","v03","v04","v05","v06","v07","v08","v09","v10","v11","v12","v13","v14","v15","v16","v17","v18","v19"]}}
   }},
  {"data": {"name": "lines"}, "transform": [{"filter": "datum.p === 'c' && datum.s === 'v01'"}],
   "mark": {"type": "line", "strokeWidth": 1.8, "clip": true},
   "encoding": {
    "x": {"field": "t", "type": "quantitative"},
    "y": {"field": "y", "type": "quantitative"},
    "color": {"field": "s", "type": "nominal"}
   }},
  {"data": {"name": "labels"}, "transform": [{"filter": "datum.p === 'c'"}],
   "mark": {"type": "text", "fontSize": 17, "font": "Liberation Serif", "color": "#000"},
   "encoding": {
    "x": {"field": "t", "type": "quantitative"},
    "y": {"field": "y", "type": "quantitative"},
    "text": {"field": "label"}
   }}
 ]
},
{
 "width": 503, "height": 53,
 "title": "Internal: Counter Network",
 "data": {"name": "lines"},
 "transform": [{"filter": "datum.p === 'd'"}],
 "mark": {"type": "line", "strokeWidth": 2, "clip": true},
 "encoding": {
  "x": {"field": "t", "type": "quantitative", "scale": {"domain": [0.001, 0.5], "nice": false, "zero": false}, "axis": null},
  "y": {"field": "y", "type": "quantitative", "scale": {"domain": [-0.48, 1.5], "nice": false, "zero": false}, "axis": {"values": [0, 1], "title": null}},
  "color": {"field": "s", "type": "nominal", "legend": null, "scale": {"domain": ["v00","v01","v02","v03","v04","v05","v06","v07","v08","v09","v10","v11","v12","v13","v14","v15","v16","v17","v18","v19"]}}
 }
},
{
 "width": 503, "height": 53,
 "title": "Internal: Adder Network",
 "data": {"name": "lines"},
 "transform": [{"filter": "datum.p === 'e'"}],
 "mark": {"type": "line", "strokeWidth": 2, "clip": true},
 "encoding": {
  "x": {"field": "t", "type": "quantitative", "scale": {"domain": [0.001, 0.5], "nice": false, "zero": false}, "axis": {"values": [0.1, 0.2, 0.3, 0.4, 0.5], "format": ".1f", "title": "Time (s)", "labelFlush": false, "labelPadding": 7, "titlePadding": 3}},
  "y": {"field": "y", "type": "quantitative", "scale": {"domain": [-0.48, 1.5], "nice": false, "zero": false}, "axis": {"values": [0, 1], "title": null}},
  "color": {"field": "s", "type": "nominal", "legend": null, "scale": {"domain": ["v00","v01","v02","v03","v04","v05","v06","v07","v08","v09","v10","v11","v12","v13","v14","v15","v16","v17","v18","v19"]}}
 }
}
]
}
]
}
